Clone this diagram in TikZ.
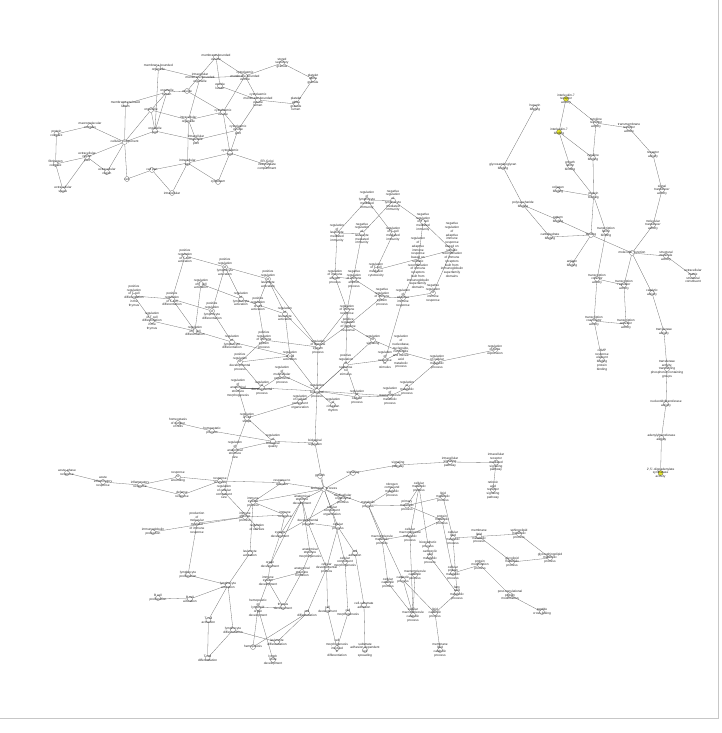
\documentclass[tikz,border=0pt]{standalone}
\usepackage{fontspec}
\setmainfont{Liberation Sans}
\usetikzlibrary{backgrounds}
\definecolor{hlyellow}{RGB}{228,228,40}
\tikzset{
  gocirc/.style={circle,draw=black!55,fill=white,line width=0.3pt,minimum size=5pt,inner sep=0pt},
  hl/.style={fill=hlyellow},
  golab/.style={align=center,font=\fontsize{3.2}{3.75}\selectfont,inner sep=0pt,text=black!85},
  goedge/.style={draw=black!55,line width=0.3pt}
}
\newcommand{\gn}[4][]{\node[gocirc,#1] (#2) at (#3) {}; \node[golab] at (#2) {#4};}
\begin{document}
\begin{tikzpicture}[x=1pt,y=-1pt]
\useasboundingbox (0,0) rectangle (722,733);
\draw[black!22,line width=0.6pt] (718,0) -- (718,718) -- (0,718);
% ---------------- cellular component
\gn{mbo}{158.4,68}{membrane-bounded\\organelle}
\gn{ol}{167,92}{organelle\\lumen}
\gn{mel}{125.4,104}{membrane-enclosed\\lumen}
\gn{org}{151,110}{organelle}
\gn{mc}{90,126}{macromolecular\\complex}
\gn{pc}{56.4,134}{protein\\complex}
\gn{op}{155,131}{organelle\\part}
\gn{cc}{124.6,142}{cellular\_component}
\gn{erp}{87,157}{extracellular\\region\\part}
\gn{fib}{55.6,164}{fibrinogen\\complex}
\gn{er}{107,172}{extracellular\\region}
\gn{cell}{127,179}{cell}
\gn{cp}{152,170}{cell part}
\gn{es}{63,190}{extracellular\\space}
\gn{ic}{172,193}{intracellular}
\gn{mbv}{216,57}{membrane-bounded\\vesicle}
\gn{imbo}{200,78}{intracellular\\membrane-bounded\\organelle}
\gn{ves}{187,91}{vesicle}
\gn{vl}{220,86}{vesicle\\lumen}
\gn{cmbv}{245,76}{cytoplasmic\\membrane-bounded\\vesicle}
\gn{ssg}{282,63}{stored\\secretory\\granule}
\gn{pag}{313,79}{platelet\\alpha\\granule}
\gn{cmbvl}{258,100}{cytoplasmic\\membrane-bounded\\vesicle\\lumen}
\gn{pagl}{296,104}{platelet\\alpha\\granule\\lumen}
\gn{cv}{223,112}{cytoplasmic\\vesicle}
\gn{io}{188.4,120}{intracellular\\organelle}
\gn{cvp}{238,130}{cytoplasmic\\vesicle\\part}
\gn{iop}{196,140}{intracellular\\organelle\\part}
\gn{cyp}{230,153}{cytoplasmic\\part}
\gn{ergic}{267,165}{ER-Golgi\\intermediate\\compartment}
\gn{icp}{187.6,163}{intracellular\\part}
\gn{cyto}{218,182}{cytoplasm}
% ---------------- molecular function
\gn[hl]{il7r}{566,99}{interleukin-7\\receptor\\activity}
\gn{hep}{535,108}{heparin\\binding}
\gn{ckr}{596,123}{cytokine\\receptor\\activity}
\gn{tmr}{629,128}{transmembrane\\receptor\\activity}
\gn[hl]{il7b}{559,132}{interleukin-7\\binding}
\gn{ra}{653,155}{receptor\\activity}
\gn{ckb}{593,158}{cytokine\\binding}
\gn{gfb}{570,166}{growth\\factor\\binding}
\gn{gagb}{503,167}{glycosaminoglycan\\binding}
\gn{colb}{558,190}{collagen\\binding}
\gn{st}{662,190}{signal\\transducer\\activity}
\gn{pb}{593.6,196}{protein\\binding}
\gn{psb}{523,205}{polysaccharide\\binding}
\gn{patb}{558,220}{pattern\\binding}
\gn{mt}{653,225}{molecular\\transducer\\activity}
\gn{tfb}{606,232}{transcription\\factor\\binding}
\gn{carb}{550,237}{carbohydrate\\binding}
\gn{bind}{591,235}{binding}
\gn{mf}{632,253}{molecular\_function}
\gn{sma}{666,256}{structural\\molecule\\activity}
\gn{ecm}{693,276}{extracellular\\matrix\\structural\\constituent}
\gn{ab}{572,264}{antigen\\binding}
\gn{tcf}{597,279}{transcription\\cofactor\\activity}
\gn{tra}{624,285}{transcription\\regulator\\activity}
\gn{cat}{652,293}{catalytic\\activity}
\gn{tcoa}{594,321}{transcription\\coactivator\\activity}
\gn{tact}{626,324}{transcription\\activator\\activity}
\gn{creb}{602,360}{cAMP\\response\\element\\binding\\protein\\binding}
\gn{tr}{664,332}{transferase\\activity}
\gn{trp}{667,369}{transferase\\activity,\\transferring\\phosphorus-containing\\groups}
\gn{nt}{666,404}{nucleotidyltransferase\\activity}
\gn{adt}{661.4,438}{adenylyltransferase\\activity}
\gn[hl]{oas}{660.6,473}{2',5'-oligoadenylate\\synthetase\\activity}
% ---------------- regulation cluster
\gn{prtca}{185,256}{positive\\regulation\\of T cell\\activation}
\gn{prla}{225,267}{positive\\regulation\\of\\lymphocyte\\activation}
\gn{prlea}{268,279}{positive\\regulation\\of\\leukocyte\\activation}
\gn{rtca}{201,284}{regulation\\of T cell\\activation}
\gn{prtcdt}{134,296}{positive\\regulation\\of T cell\\differentiation\\in the\\thymus}
\gn{prtcd}{172,299}{positive\\regulation\\of T cell\\differentiation}
\gn{rla}{241,299}{regulation\\of\\lymphocyte\\activation}
\gn{prca}{258,304}{positive\\regulation\\of cell\\activation}
\gn{prld}{212,311}{positive\\regulation\\of\\lymphocyte\\differentiation}
\gn{rlea}{285,314}{regulation\\of\\leukocyte\\activation}
\gn{rtcdt}{152,321}{regulation\\of T cell\\differentiation\\in the\\thymus}
\gn{rtcd}{195,331}{regulation\\of T cell\\differentiation}
\gn{rld}{232,342}{regulation\\of\\lymphocyte\\differentiation}
\gn{prisp}{264,340}{positive\\regulation\\of immune\\system\\process}
\gn{rca}{290,356}{regulation\\of cell\\activation}
\gn{prdp}{240,362}{positive\\regulation\\of\\developmental\\process}
\gn{rasm}{238,388}{regulation\\of\\anatomical\\structure\\morphogenesis}
\gn{rdp}{262,388}{regulation\\of\\developmental\\process}
\gn{rmop}{282,375}{regulation\\of\\multicellular\\organismal\\process}
\gn{rbp}{317,391}{regulation\\of\\biological\\process}
\gn{rcco}{300,402}{regulation\\of cellular\\component\\organization}
\gn{rcr}{333,405}{regulation\\of\\circadian\\rhythm}
\gn{risp}{318,347}{regulation\\of immune\\system\\process}
\gn{rA}{367,200}{regulation\\of\\lymphocyte\\mediated\\immunity}
\gn{rB}{393,200.6}{negative\\regulation\\of\\lymphocyte\\mediated\\immunity}
\gn{rC}{337,233}{regulation\\of\\leukocyte\\mediated\\immunity}
\gn{rD}{362,233.6}{negative\\regulation\\of\\leukocyte\\mediated\\immunity}
\gn{rE}{393,234}{regulation\\of T cell\\mediated\\immunity}
\gn{rF}{423,222}{negative\\regulation\\of T cell\\mediated\\immunity}
\gn{rG}{452,250}{negative\\regulation\\of\\adaptive\\immune\\response\\based on\\somatic\\recombination\\of immune\\receptors\\built from\\immunoglobulin\\superfamily\\domains}
\gn{rH}{418,263}{regulation\\of\\adaptive\\immune\\response\\based on\\somatic\\recombination\\of immune\\receptors\\built from\\immunoglobulin\\superfamily\\domains}
\gn{rI}{376,270}{regulation\\of T cell\\mediated\\cytotoxicity}
\gn{rJ}{335,277}{regulation\\of immune\\effector\\process}
\gn{rK}{354,279}{negative\\regulation\\of immune\\effector\\process}
\gn{rL}{382,297}{negative\\regulation\\of immune\\system\\process}
\gn{rM}{403,298}{regulation\\of\\adaptive\\immune\\response}
\gn{rN}{433,293}{negative\\regulation\\of\\immune\\response}
\gn{rO}{347,310}{regulation\\of immune\\response}
\gn{rP}{348.2,325}{positive\\regulation\\of immune\\response}
\gn{rQ}{373,340}{regulation\\of\\signaling}
\gn{rR}{401,352}{regulation\\of\\nucleobase,\\nucleoside,\\nucleotide\\and nucleic\\acid\\metabolic\\process}
\gn{rS}{385,360}{regulation\\of\\response\\to\\stimulus}
\gn{rT}{345.8,365}{positive\\regulation\\of\\response\\to\\stimulus}
\gn{rU}{437,362}{regulation\\of cellular\\metabolic\\process}
\gn{rV}{407,388}{regulation\\of\\metabolic\\process}
\gn{rW}{390,396}{regulation\\of\\macromolecule\\metabolic\\process}
\gn{rX}{357,397}{regulation\\of\\cellular\\process}
\gn{rY}{495,350}{regulation\\of gene\\expression}
\gn{rcs}{247,418}{regulation\\of cell\\shape}
% ---------------- biological process (lower)
\gn{hnc}{178,423}{homeostasis\\of number\\of cells}
\gn{hp}{212,431}{homeostatic\\process}
\gn{rasz}{235,450}{regulation\\of\\anatomical\\structure\\size}
\gn{rbq}{273,441.4}{regulation\\of\\biological\\quality}
\gn{br}{315,443}{biological\\regulation}
\gn{apr}{67,473}{acute-phase\\response}
\gn{air}{103,482}{acute\\inflammatory\\response}
\gn{ir}{140,485}{inflammatory\\response}
\gn{rw}{178,477}{response\\to\\wounding}
\gn{dr}{182,495}{defense\\response}
\gn{rts}{220,481}{response\\to stress}
\gn{rccs}{224,492}{regulation\\of cellular\\component\\size}
\gn{iep}{245,517}{immune\\effector\\process}
\gn{pmm}{197,523}{production\\of\\molecular\\mediator\\of immune\\response}
\gn{igp}{153,532}{immunoglobulin\\production}
\gn{rstim}{282,482.6}{response to\\stimulus}
\gn{grow}{320,476}{growth}
\gn{bp}{324,489}{biological\_process}
\gn{sig}{353,473}{signaling}
\gn{sp}{398,465}{signaling\\pathway}
\gn{ncmp}{392,490}{nitrogen\\compound\\metabolic\\process}
\gn{mp}{368,505}{metabolic\\process}
\gn{pmp}{407,505.6}{primary\\metabolic\\process}
\gn{cmp}{419,487}{cellular\\metabolic\\process}
\gn{asd}{302,500}{anatomical\\structure\\development}
\gn{mop}{343,499}{multicellular\\organismal\\process}
\gn{cco}{332,511}{cellular\\component\\organization}
\gn{isp}{253,502}{immune\\system\\process}
\gn{ira}{285,515}{immune\\response}
\gn{rcsize}{257,527}{regulation\\of cell size}
\gn{cellproc}{338,527}{cellular\\process}
\gn{dp}{308,523}{developmental\\process}
\gn{sysd}{280,535}{system\\development}
\gn{la}{250,553}{leukocyte\\activation}
\gn{asm}{310,553}{anatomical\\structure\\morphogenesis}
\gn{cadh}{355,553}{cell\\adhesion}
\gn{mmp}{382,540}{macromolecule\\metabolic\\process}
\gn{cmmp}{410,535}{cellular\\macromolecule\\metabolic\\process}
\gn{isp2}{450,462}{intracellular\\signaling\\pathway}
\gn{irmsp}{496,462.6}{intracellular\\receptor\\mediated\\signaling\\pathway}
\gn{rarsp}{493,490}{retinoic\\acid\\receptor\\signaling\\pathway}
\gn{lmp}{443,497}{lipid\\metabolic\\process}
\gn{pmp2}{442,520}{protein\\metabolic\\process}
\gn{mlmp}{479,536.4}{membrane\\lipid\\metabolic\\process}
\gn{slmp}{519,534}{sphingolipid\\metabolic\\process}
\gn{clmp}{453,538}{cellular\\lipid\\metabolic\\process}
\gn{bsp}{428,545}{biosynthetic\\process}
\gn{glmp}{512,562}{glycolipid\\metabolic\\process}
\gn{gslmp}{550,558}{glycosphingolipid\\metabolic\\process}
\gn{pmod}{480,565}{protein\\modification\\process}
\gn{cpmp}{453,573}{cellular\\protein\\metabolic\\process}
\gn{camp}{430,557}{carboxylic\\acid\\metabolic\\process}
\gn{famp}{457,593}{fatty\\acid\\metabolic\\process}
\gn{ptpm}{510,595}{post-translational\\protein\\modification}
\gn{pcl}{542,612}{peptide\\cross-linking}
\gn{lcp}{435,613}{lipid\\catabolic\\process}
\gn{lp}{188,575}{lymphocyte\\proliferation}
\gn{la2}{228,585}{lymphocyte\\activation}
\gn{bca}{190,599}{B cell\\activation}
\gn{bcp}{158,598}{B cell\\proliferation}
\gn{tca}{208.4,620}{T cell\\activation}
\gn{ld}{233,630}{lymphocyte\\differentiation}
\gn{tcd}{207.6,658}{T cell\\differentiation}
\gn{hlod}{258,608}{hemopoietic\\or\\lymphoid\\organ\\development}
\gn{orgd}{270,565}{organ\\development}
\gn{isd}{268,581}{immune\\system\\development}
\gn{asf}{302,572}{anatomical\\structure\\formation}
\gn{cdp}{326.6,568}{cellular\\developmental\\process}
\gn{ccm}{345,562}{cellular\\component\\morphogenesis}
\gn{thy}{283,607}{thymus\\development}
\gn{cdiff}{307,613}{cell\\differentiation}
\gn{cdev}{327.6,610}{cell\\development}
\gn{cmorph}{348,613}{cell\\morphogenesis}
\gn{ledif}{277,642}{leukocyte\\differentiation}
\gn{hemo}{253,647}{hemopoiesis}
\gn{lnd}{273,660}{lymph\\node\\development}
\gn{cmid}{337,648}{cell\\morphogenesis\\involved\\in\\differentiation}
\gn{csa}{364,605}{cell-substrate\\adhesion}
\gn{sadcs}{365,650}{substrate\\adhesion-dependent\\cell\\spreading}
\gn{ccp}{388,583}{cellular\\catabolic\\process}
\gn{catp}{403,580}{catabolic\\process}
\gn{mcp}{415,575}{macromolecule\\catabolic\\process}
\gn{cmcp}{413,615}{cellular\\macromolecule\\catabolic\\process}
\gn{mlcp}{440,650}{membrane\\lipid\\catabolic\\process}
% ---------------- edges
\begin{scope}[on background layer]
\foreach \a/\b in {mbo/imbo,mbo/op,ol/op,ol/ves,mel/cc,mel/ol,org/cc,org/op,org/io,org/ol,mc/pc,mc/cc,pc/fib,cc/op,cc/erp,cc/er,cc/cell,erp/fib,erp/es,er/erp,fib/es,cell/cp,cp/ic,cp/icp,op/iop,mbv/ves,mbv/cmbv,mbv/vl,imbo/cmbv,imbo/io,vl/cmbvl,cmbv/ssg,cmbv/cv,cmbv/cmbvl,ssg/pag,pag/pagl,cmbvl/pagl,cmbvl/cvp,cv/cvp,cv/cyp,ves/cv,io/iop,io/cv,io/icp,iop/cvp,icp/cyp,icp/cyto,cyp/ergic,cyp/cyto,cvp/cyp,ic/icp}
  \draw[goedge] (\a) -- (\b);
\foreach \a/\b in {il7r/ckr,il7b/il7r,ckr/tmr,ckr/ckb,tmr/ra,il7b/ckb,il7b/gfb,gfb/pb,ckb/pb,hep/gagb,gagb/psb,colb/pb,ra/st,st/mt,mt/mf,pb/bind,pb/tfb,psb/patb,psb/carb,patb/bind,carb/bind,bind/mf,bind/ab,tfb/tcf,mf/sma,sma/ecm,mf/tra,mf/cat,tcf/tra,tra/tact,tcf/tcoa,tcoa/tact,tcoa/creb,cat/tr,tr/trp,trp/nt,nt/adt,adt/oas}
  \draw[goedge] (\a) -- (\b);
\foreach \a/\b in {prtca/prla,prla/prlea,prtca/prtcd,prla/prld,prla/rla,rtca/rtcd,rtca/rla,prtcdt/prtcd,prtcdt/rtcdt,prtcd/prld,prtcd/rtcd,rla/rlea,prlea/rlea,prlea/prca,prlea/risp,prca/prisp,rlea/rca,rlea/risp,rtcdt/rtcd,rtcd/rld,prld/rld,rld/rca,prisp/risp,prisp/prdp,prdp/rdp,prdp/rca,rasm/rdp,rasm/rcs,rdp/rbp,rdp/rmop,rmop/rbp,rcco/rbp,rcs/rcco,rcr/rbp,risp/rbp,rca/rbp,rA/rC,rA/rB,rA/rE,rB/rD,rB/rF,rC/rD,rC/rJ,rD/rO,rE/rI,rF/rG,rF/rH,rG/rN,rH/rM,rI/rG,rJ/rK,rJ/rO,rK/rL,rL/rM,rM/rN,rO/rP,rP/risp,rP/rQ,rQ/rR,rR/rS,rS/rT,rT/rO,rT/rX,rR/rU,rU/rY,rU/rV,rV/rW,rW/rX,rX/rbp,rW/rbp,rO/risp,rL/rP,rM/rS,rT/rbp,rQ/rbp,rbp/br}
  \draw[goedge] (\a) -- (\b);
\foreach \a/\b in {hnc/hp,hp/rbq,rcs/rbq,rasz/rbq,rasz/rcs,rbq/br,br/bp,grow/bp,apr/air,air/ir,ir/rw,ir/dr,rw/rts,dr/rts,rasz/rccs,rts/rstim,rccs/rcsize,igp/iep,pmm/iep,rstim/bp,rstim/isp,sig/bp,sig/sp,sp/isp2,isp2/irmsp,irmsp/rarsp,bp/isp,bp/asd,bp/mop,bp/cco,bp/mp,bp/cellproc,bp/dp,isp/ira,isp/iep,ira/iep,ncmp/mp,mp/pmp,mp/mmp,pmp/lmp,pmp/pmp2,pmp/cmp,lmp/clmp,pmp2/cpmp,pmp2/cmmp,mlmp/slmp,mlmp/glmp,slmp/gslmp,glmp/gslmp,clmp/mlmp,cpmp/pmod,pmod/ptpm,ptpm/pcl,camp/famp,famp/lcp,clmp/famp,lcp/mlcp,cmp/cmmp,mmp/cmmp,cmmp/cmcp,ccp/cmcp,catp/cmcp,mcp/cmcp,catp/lcp,mmp/ccp,catp/mp,cmp/bsp,bsp/camp,dp/asd,asd/sysd,sysd/orgd,asd/orgd,orgd/isd,isd/hlod,hlod/hemo,isd/thy,hlod/thy,hlod/lnd,asf/isd,asf/thy,asd/asm,dp/cdp,dp/cellproc,cdp/cdiff,cdp/cdev,cdiff/ledif,ledif/ld,ld/tcd,tca/tcd,la2/tca,la2/ld,la2/bca,la2/lp,bcp/bca,lp/pmm,la/la2,isp/la,cellproc/cadh,cadh/csa,csa/sadcs,cdev/cmid,cmorph/cmid,ccm/cmorph,cco/ccm,mop/sysd,asm/asf,cellproc/cdp,ira/sysd,cdiff/hemo}
  \draw[goedge] (\a) -- (\b);
\end{scope}
\end{tikzpicture}
\end{document}
